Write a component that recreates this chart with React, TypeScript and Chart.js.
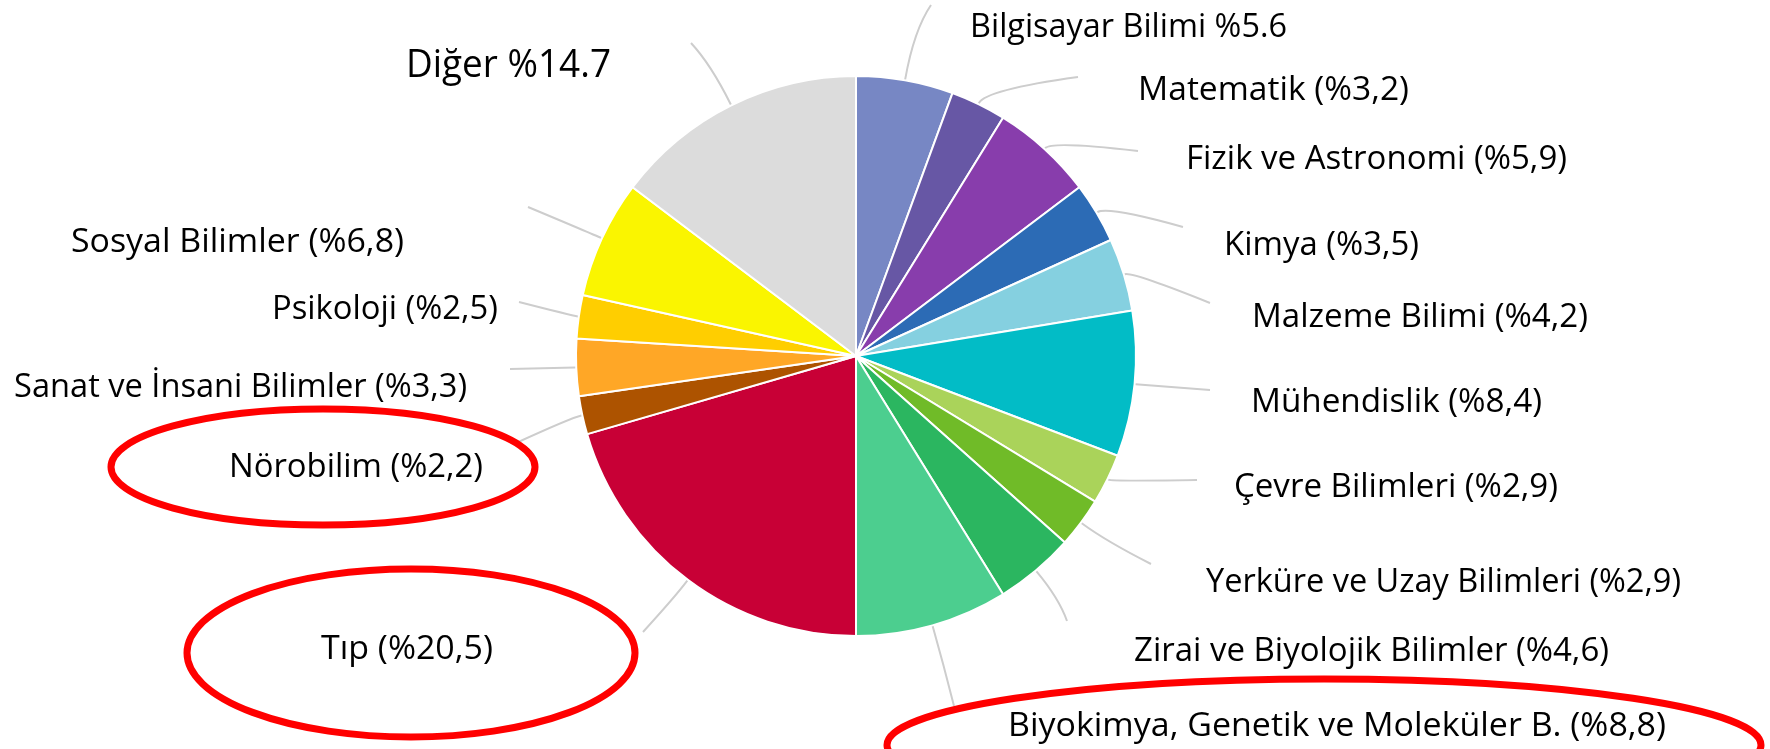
import React, { useEffect, useRef } from "react";
import { Chart, registerables } from "chart.js";

Chart.register(...registerables);

// ---- data ----
const categories = [
  "Bilgisayar Bilimi",
  "Matematik",
  "Fizik ve Astronomi",
  "Kimya",
  "Malzeme Bilimi",
  "Mühendislik",
  "Çevre Bilimleri",
  "Yerküre ve Uzay Bilimleri",
  "Zirai ve Biyolojik Bilimler",
  "Biyokimya, Genetik ve Moleküler B.",
  "Tıp",
  "Nörobilim",
  "Sanat ve İnsani Bilimler",
  "Psikoloji",
  "Sosyal Bilimler",
  "Diğer",
];
const shares = [5.6, 3.2, 5.9, 3.5, 4.2, 8.4, 2.9, 2.9, 4.6, 8.8, 20.5, 2.2, 3.3, 2.5, 6.8, 14.7];
const labelTexts = [
  "Bilgisayar Bilimi %5.6",
  "Matematik (%3,2)",
  "Fizik ve Astronomi (%5,9)",
  "Kimya (%3,5)",
  "Malzeme Bilimi (%4,2)",
  "Mühendislik (%8,4)",
  "Çevre Bilimleri (%2,9)",
  "Yerküre ve Uzay Bilimleri (%2,9)",
  "Zirai ve Biyolojik Bilimler (%4,6)",
  "Biyokimya, Genetik ve Moleküler B. (%8,8)",
  "Tıp (%20,5)",
  "Nörobilim (%2,2)",
  "Sanat ve İnsani Bilimler (%3,3)",
  "Psikoloji (%2,5)",
  "Sosyal Bilimler (%6,8)",
  "Diğer %14.7",
];
const highlighted = ["Biyokimya, Genetik ve Moleküler B.", "Tıp", "Nörobilim"];

// ---- style ----
const sliceColors = [
  "#7787C4", "#6757A5", "#883DAC", "#2C6BB5", "#85D0E0", "#02BCC6",
  "#AAD35A", "#70BB28", "#2BB660", "#4CCE8F", "#C80036", "#AD5300",
  "#FFA726", "#FFCE00", "#FAF500", "#DCDCDC",
];

// ---- layout (canvas pixels) ----
// [left, right, capCenterY, fontSize]
const labelBoxes: number[][] = [
  [970, 1287, 25, 33],
  [1138, 1409, 88, 33],
  [1186, 1567, 157, 33],
  [1224, 1419, 243, 33],
  [1252, 1588, 315, 33],
  [1251, 1542, 400, 33],
  [1234, 1558, 485, 33],
  [1206, 1681, 580, 33],
  [1134, 1609, 649, 33],
  [1008, 1666, 724, 33],
  [321, 493, 647, 33],
  [229, 483, 465, 33],
  [14, 467, 385, 33],
  [272, 498, 307, 33],
  [71, 404, 240, 33],
  [406, 611, 63, 38],
];
// leader line end point and radial run length
const leaderEnds: number[][] = [
  [931, 5], [1078, 77], [1138, 151], [1183, 227], [1210, 303], [1210, 390],
  [1197, 480], [1151, 564], [1067, 621], [954, 706], [643, 632], [514, 444],
  [510, 369], [519, 302], [528, 207], [691, 43],
];
const leaderRun = [50, 15, 10, 12, 8, 4, 4, 30, 35, 40, 20, 10, 4, 6, 10, 45];
// [cx, cy, rx, ry] per highlighted category
const ellipseBoxes: number[][] = [
  [1324, 745, 437, 66],
  [411, 653, 224, 84],
  [323, 467, 212, 58],
];

const FONT = "'Open Sans', 'Noto Sans', sans-serif";

const annotatePlugin = {
  id: "annotate",
  afterDatasetsDraw(chart: any) {
    const ctx: CanvasRenderingContext2D = chart.ctx;
    const meta = chart.getDatasetMeta(0);
    ctx.save();
    // leader lines
    meta.data.forEach((arc: any, i: number) => {
      const mid = (arc.startAngle + arc.endAngle) / 2;
      const r = arc.outerRadius + 1;
      const sx = arc.x + Math.cos(mid) * r;
      const sy = arc.y + Math.sin(mid) * r;
      const cx = arc.x + Math.cos(mid) * (r + leaderRun[i]);
      const cy = arc.y + Math.sin(mid) * (r + leaderRun[i]);
      const [ex, ey] = leaderEnds[i];
      ctx.beginPath();
      ctx.moveTo(sx, sy);
      ctx.quadraticCurveTo(cx, cy, ex, ey);
      ctx.strokeStyle = "#CDCDCD";
      ctx.lineWidth = 2;
      ctx.stroke();
    });
    // labels
    ctx.fillStyle = "#000000";
    ctx.textBaseline = "alphabetic";
    ctx.textAlign = "left";
    labelTexts.forEach((t, i) => {
      const [l, rgt, yc, fs] = labelBoxes[i];
      ctx.font = `${fs}px ${FONT}`;
      const w = ctx.measureText(t).width;
      const target = rgt - l;
      const sx = target / w;
      ctx.save();
      ctx.translate(l, yc + fs * 0.357);
      ctx.scale(sx, 1);
      ctx.fillText(t, 0, 0);
      ctx.restore();
    });
    // highlight ellipses
    highlighted.forEach((name, k) => {
      const [ex, ey, rx, ry] = ellipseBoxes[k];
      ctx.beginPath();
      ctx.ellipse(ex, ey, rx, ry, 0, 0, Math.PI * 2);
      ctx.strokeStyle = "#FF0000";
      ctx.lineWidth = 7;
      ctx.stroke();
    });
    ctx.restore();
  },
};

export default function App() {
  const ref = useRef<HTMLCanvasElement | null>(null);
  useEffect(() => {
    if (!ref.current) return;
    const chart = new Chart(ref.current, {
      type: "pie",
      data: {
        labels: categories,
        datasets: [
          {
            data: shares,
            backgroundColor: sliceColors,
            borderColor: "#FFFFFF",
            borderWidth: 2,
          },
        ],
      },
      options: {
        responsive: false,
        animation: false,
        devicePixelRatio: 1,
        layout: { padding: { left: 575, right: 633, top: 75, bottom: 112 } },
        plugins: {
          legend: { display: false },
          tooltip: { enabled: false },
        },
      },
      plugins: [annotatePlugin],
    });
    return () => chart.destroy();
  }, []);
  return (
    <div style={{ position: "fixed", left: 0, top: 0, width: 1770, height: 749, background: "#FFFFFF" }}>
      <canvas ref={ref} width={1770} height={749} style={{ width: 1770, height: 749 }} />
    </div>
  );
}
